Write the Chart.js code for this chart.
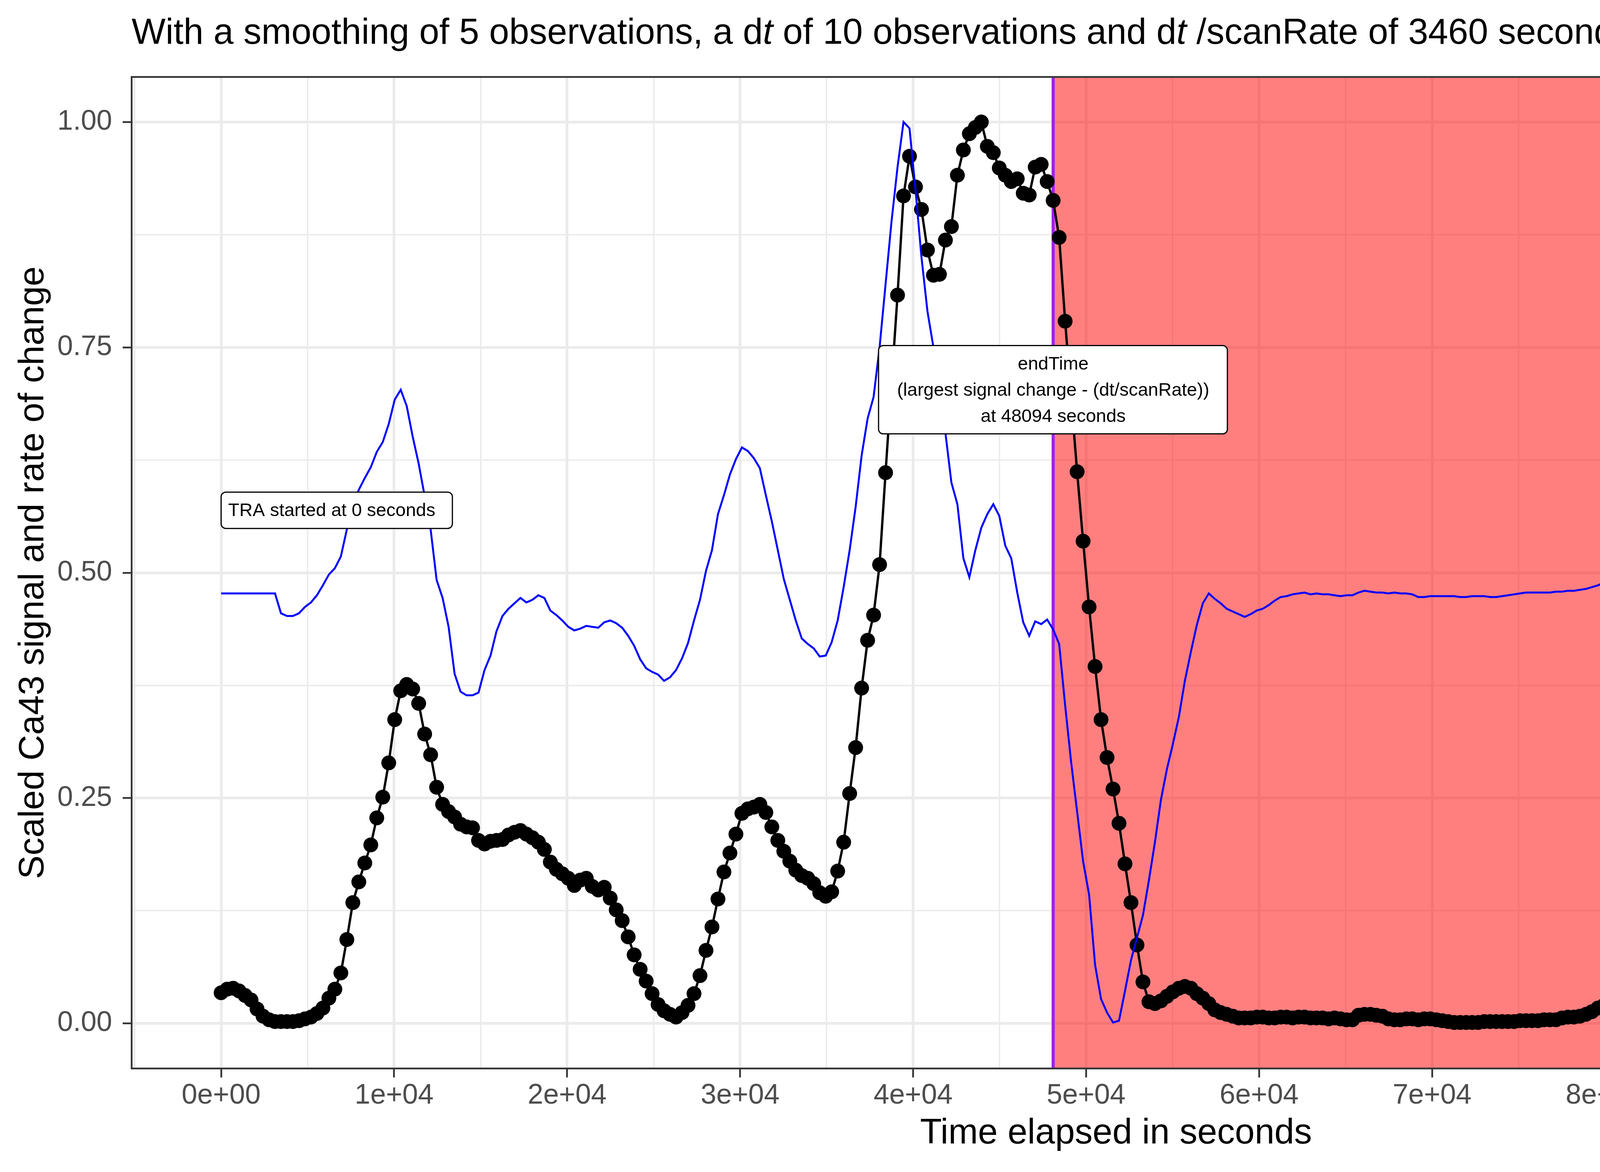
<!DOCTYPE html>
<html>
<head>
<meta charset="utf-8">
<title>Scaled Ca43 signal and rate of change</title>
<script src="https://cdn.jsdelivr.net/npm/chart.js@4.4.1/dist/chart.umd.min.js"></script>
<style>
  html, body { margin: 0; padding: 0; background: #ffffff; }
  #wrap { width: 6000px; height: 3000px; }
</style>
</head>
<body>
<div id="wrap"><canvas id="traChart" width="6000" height="3000"></canvas></div>
<script>
// one observation every 346 s (dt of 10 observations = 3460 s)
const scanRate = 346;
const endTime = 48094;

// scaled Ca43 signal, one value per observation
const signalValues = [
  0.034, 0.038, 0.039, 0.036, 0.031, 0.026, 0.016, 0.008, 0.004, 0.002,
  0.002, 0.002, 0.002, 0.003, 0.005, 0.007, 0.011, 0.017, 0.028, 0.038,
  0.056, 0.093, 0.134, 0.157, 0.178, 0.198, 0.228, 0.251, 0.289, 0.337,
  0.369, 0.376, 0.371, 0.355, 0.321, 0.298, 0.262, 0.243, 0.235, 0.229,
  0.221, 0.218, 0.217, 0.203, 0.199, 0.202, 0.203, 0.204, 0.209, 0.212,
  0.214, 0.210, 0.206, 0.201, 0.193, 0.179, 0.171, 0.166, 0.161, 0.153,
  0.159, 0.161, 0.152, 0.148, 0.151, 0.139, 0.126, 0.114, 0.096, 0.076,
  0.060, 0.047, 0.033, 0.021, 0.014, 0.010, 0.007, 0.012, 0.020, 0.033,
  0.053, 0.081, 0.107, 0.138, 0.168, 0.189, 0.210, 0.233, 0.238, 0.240,
  0.243, 0.234, 0.218, 0.203, 0.191, 0.180, 0.170, 0.164, 0.161, 0.155,
  0.145, 0.141, 0.146, 0.169, 0.201, 0.255, 0.306, 0.372, 0.425, 0.453,
  0.509, 0.611, 0.710, 0.808, 0.918, 0.962, 0.928, 0.903, 0.858, 0.830,
  0.831, 0.869, 0.884, 0.941, 0.969, 0.987, 0.994, 1.000, 0.973, 0.966,
  0.949, 0.941, 0.934, 0.937, 0.921, 0.919, 0.950, 0.953, 0.934, 0.913,
  0.872, 0.779, 0.695, 0.612, 0.535, 0.462, 0.396, 0.337, 0.295, 0.260,
  0.222, 0.177, 0.134, 0.087, 0.046, 0.024, 0.022, 0.025, 0.030, 0.035,
  0.039, 0.041, 0.039, 0.033, 0.028, 0.022, 0.015, 0.012, 0.010, 0.008,
  0.006, 0.006, 0.006, 0.007, 0.007, 0.006, 0.006, 0.007, 0.007, 0.006,
  0.007, 0.007, 0.006, 0.006, 0.006, 0.005, 0.006, 0.005, 0.004, 0.004,
  0.009, 0.010, 0.010, 0.009, 0.008, 0.005, 0.004, 0.004, 0.005, 0.005,
  0.004, 0.005, 0.005, 0.004, 0.003, 0.002, 0.001, 0.001, 0.001, 0.001,
  0.001, 0.002, 0.002, 0.002, 0.002, 0.002, 0.002, 0.003, 0.003, 0.003,
  0.003, 0.004, 0.004, 0.004, 0.006, 0.007, 0.007, 0.008, 0.010, 0.013,
  0.017, 0.020, 0.022, 0.022, 0.021, 0.016, 0.012, 0.008, 0.006, 0.006,
  0.006, 0.008, 0.010, 0.012, 0.014, 0.015, 0.015, 0.015, 0.014, 0.014,
  0.013, 0.013, 0.013, 0.012, 0.012, 0.012, 0.013, 0.014, 0.013, 0.014,
  0.014, 0.014, 0.013, 0.014, 0.014, 0.015, 0.015, 0.015, 0.015, 0.015,
  0.015, 0.016, 0.020, 0.020, 0.020, 0.019, 0.020, 0.016, 0.015, 0.015,
  0.015, 0.014, 0.012, 0.010, 0.008, 0.006, 0.005, 0.004, 0.004, 0.004,
  0.005, 0.006, 0.007, 0.008, 0.008, 0.009, 0.009, 0.010, 0.010, 0.010
];

// scaled rate of change
const dydtValues = [
  0.477, 0.477, 0.477, 0.477, 0.477, 0.477, 0.477, 0.477, 0.477, 0.477,
  0.455, 0.452, 0.452, 0.455, 0.462, 0.467, 0.475, 0.486, 0.498, 0.505,
  0.518, 0.548, 0.575, 0.592, 0.605, 0.617, 0.634, 0.645, 0.665, 0.692,
  0.703, 0.685, 0.651, 0.621, 0.585, 0.548, 0.492, 0.472, 0.440, 0.388,
  0.368, 0.364, 0.364, 0.367, 0.392, 0.408, 0.435, 0.452, 0.460, 0.466,
  0.472, 0.467, 0.470, 0.475, 0.472, 0.458, 0.453, 0.447, 0.440, 0.436,
  0.438, 0.441, 0.440, 0.439, 0.445, 0.447, 0.444, 0.439, 0.430, 0.419,
  0.404, 0.394, 0.390, 0.387, 0.380, 0.384, 0.392, 0.405, 0.422, 0.447,
  0.470, 0.502, 0.525, 0.565, 0.586, 0.609, 0.626, 0.639, 0.635, 0.627,
  0.616, 0.586, 0.557, 0.525, 0.493, 0.470, 0.447, 0.427, 0.421, 0.416,
  0.407, 0.408, 0.423, 0.447, 0.484, 0.525, 0.573, 0.630, 0.671, 0.695,
  0.750, 0.820, 0.890, 0.950, 1.000, 0.993, 0.925, 0.850, 0.790, 0.750,
  0.705, 0.655, 0.600, 0.576, 0.516, 0.495, 0.525, 0.550, 0.565, 0.576,
  0.563, 0.530, 0.516, 0.478, 0.445, 0.430, 0.446, 0.443, 0.448, 0.437,
  0.421, 0.353, 0.290, 0.235, 0.180, 0.143, 0.065, 0.027, 0.012, 0.001,
  0.003, 0.036, 0.070, 0.095, 0.120, 0.159, 0.201, 0.248, 0.282, 0.310,
  0.340, 0.380, 0.412, 0.442, 0.466, 0.477, 0.471, 0.466, 0.460, 0.457,
  0.454, 0.451, 0.454, 0.458, 0.460, 0.464, 0.469, 0.473, 0.474, 0.476,
  0.477, 0.478, 0.476, 0.477, 0.476, 0.476, 0.475, 0.474, 0.475, 0.475,
  0.478, 0.480, 0.479, 0.478, 0.478, 0.477, 0.478, 0.477, 0.477, 0.476,
  0.473, 0.473, 0.474, 0.474, 0.474, 0.474, 0.474, 0.473, 0.473, 0.474,
  0.474, 0.474, 0.473, 0.473, 0.474, 0.475, 0.476, 0.477, 0.478, 0.478,
  0.478, 0.478, 0.478, 0.479, 0.479, 0.480, 0.480, 0.481, 0.482, 0.484,
  0.486, 0.489, 0.490, 0.490, 0.488, 0.485, 0.482, 0.479, 0.476, 0.475,
  0.474, 0.471, 0.470, 0.471, 0.473, 0.476, 0.479, 0.481, 0.482, 0.482,
  0.482, 0.481, 0.480, 0.479, 0.476, 0.475, 0.476, 0.477, 0.477, 0.478,
  0.478, 0.478, 0.478, 0.479, 0.479, 0.479, 0.479, 0.478, 0.478, 0.478,
  0.478, 0.478, 0.481, 0.481, 0.481, 0.480, 0.480, 0.478, 0.478, 0.478,
  0.477, 0.474, 0.472, 0.471, 0.470, 0.469, 0.467, 0.469, 0.468, 0.469,
  0.469, 0.470, 0.472, 0.474, 0.476, 0.478, 0.480, 0.481, 0.481, 0.481
];

const xTickValues = [0, 10000, 20000, 30000, 40000, 50000, 60000, 70000, 80000, 90000, 100000];
const xTickLabels = ['0e+00', '1e+04', '2e+04', '3e+04', '4e+04', '5e+04', '6e+04', '7e+04', '8e+04', '9e+04', '1e+05'];
const xMinorValues = [-5000, 5000, 15000, 25000, 35000, 45000, 55000, 65000, 75000, 85000, 95000, 105000];
const yTickValues = [0, 0.25, 0.5, 0.75, 1];
const yTickLabels = ['0.00', '0.25', '0.50', '0.75', '1.00'];
const yMinorValues = [0.125, 0.375, 0.625, 0.875];
const xLimits = [-5173, 108627];
const yLimits = [-0.05, 1.05];

const FONT = "'Liberation Sans', Arial, Helvetica, sans-serif";

function toPoints(values) {
  return values.map((v, i) => ({ x: i * scanRate, y: v }));
}

function buildTicks(major, labels, minor) {
  return major.map((v, i) => ({ value: v, label: labels[i], isMajor: true }))
    .concat(minor.map(v => ({ value: v, label: '', isMajor: false })))
    .sort((a, b) => a.value - b.value);
}

function gridOptions() {
  return {
    color: '#EBEBEB',
    lineWidth: ctx => (ctx.tick && ctx.tick.isMajor ? 7 : 3.5),
    tickColor: ctx => (ctx.tick && ctx.tick.isMajor ? '#333333' : 'rgba(0,0,0,0)'),
    tickWidth: 4.5,
    tickLength: 23,
    drawTicks: true
  };
}

function roundedBox(ctx, x, y, w, h, r) {
  ctx.beginPath();
  ctx.moveTo(x + r, y);
  ctx.arcTo(x + w, y, x + w, y + h, r);
  ctx.arcTo(x + w, y + h, x, y + h, r);
  ctx.arcTo(x, y + h, x, y, r);
  ctx.arcTo(x, y, x + w, y, r);
  ctx.closePath();
}

function drawLabelBox(ctx, left, top, w, h) {
  roundedBox(ctx, left, top, w, h, 12);
  ctx.fillStyle = '#ffffff';
  ctx.fill();
  ctx.lineWidth = 3;
  ctx.strokeStyle = '#000000';
  ctx.stroke();
}

const ggDecor = {
  id: 'ggDecor',
  beforeDatasetsDraw(chart) {
    const { ctx, chartArea: a, scales: { x } } = chart;
    const xe = x.getPixelForValue(endTime);
    ctx.save();
    ctx.fillStyle = 'rgba(255, 0, 0, 0.5)';
    ctx.fillRect(xe, a.top, a.right - xe, a.bottom - a.top);
    ctx.strokeStyle = '#A020F0';
    ctx.lineWidth = 8;
    ctx.beginPath();
    ctx.moveTo(xe, a.top);
    ctx.lineTo(xe, a.bottom);
    ctx.stroke();
    ctx.restore();
  },
  afterDatasetsDraw(chart) {
    const { ctx, chartArea: a, scales: { x, y } } = chart;
    ctx.save();
    // panel border
    ctx.strokeStyle = '#333333';
    ctx.lineWidth = 4.5;
    ctx.strokeRect(a.left, a.top, a.right - a.left, a.bottom - a.top);

    // start label
    ctx.font = '47px ' + FONT;
    ctx.textBaseline = 'middle';
    const sx = x.getPixelForValue(0);
    const sy = y.getPixelForValue(0.5695);
    drawLabelBox(ctx, sx, sy - 46, 592, 93);
    ctx.fillStyle = '#000000';
    ctx.textAlign = 'left';
    ctx.fillText('TRA started at 0 seconds', sx + 18, sy + 2);

    // endTime label
    const ex = x.getPixelForValue(endTime);
    const ey = y.getPixelForValue(0.703);
    drawLabelBox(ctx, ex - 447, ey - 113, 893, 226);
    ctx.fillStyle = '#000000';
    ctx.textAlign = 'center';
    ctx.fillText('endTime', ex, ey - 65);
    ctx.fillText('(largest signal change - (dt/scanRate))', ex, ey + 2);
    ctx.fillText('at 48094 seconds', ex, ey + 69);
    ctx.restore();
  },
  afterDraw(chart) {
    const { ctx, chartArea: a } = chart;
    ctx.save();
    // title with italic t
    const parts = [
      ['With a smoothing of 5 observations, a d', false],
      ['t', true],
      [' of 10 observations and d', false],
      ['t', true],
      [' /scanRate of 3460 seconds', false]
    ];
    let tx = a.left;
    ctx.fillStyle = '#000000';
    ctx.textAlign = 'left';
    ctx.textBaseline = 'alphabetic';
    for (const [s, italic] of parts) {
      ctx.font = (italic ? 'italic ' : '') + '92px ' + FONT;
      ctx.fillText(s, tx, 112);
      tx += ctx.measureText(s).width;
    }

    // legend
    const keys = [['Signal', '#000000', 1457], ['dydt', '#0000FF', 1603]];
    ctx.font = '72px ' + FONT;
    ctx.textBaseline = 'middle';
    for (const [name, col, ky] of keys) {
      ctx.strokeStyle = col;
      ctx.lineWidth = 5;
      ctx.beginPath();
      ctx.moveTo(5530, ky);
      ctx.lineTo(5645, ky);
      ctx.stroke();
      ctx.fillStyle = col;
      ctx.beginPath();
      ctx.arc(5587, ky, 19, 0, Math.PI * 2);
      ctx.fill();
      ctx.fillStyle = '#000000';
      ctx.fillText(name, 5708, ky + 2);
    }
    ctx.restore();
  }
};

const ctxTra = document.getElementById('traChart').getContext('2d');
new Chart(ctxTra, {
  type: 'line',
  data: {
    datasets: [{
      label: 'dydt',
      data: toPoints(dydtValues),
      borderColor: '#0000FF',
      backgroundColor: '#0000FF',
      borderWidth: 5,
      pointRadius: 0,
      tension: 0,
      order: 1
    }, {
      label: 'Signal',
      data: toPoints(signalValues),
      borderColor: '#000000',
      backgroundColor: '#000000',
      borderWidth: 6,
      pointRadius: 19,
      pointHoverRadius: 19,
      pointBorderWidth: 0,
      tension: 0,
      order: 2
    }]
  },
  options: {
    responsive: false,
    devicePixelRatio: 1,
    animation: false,
    events: [],
    layout: { padding: { top: 197, right: 623, bottom: 0, left: 0 } },
    plugins: {
      legend: { display: false },
      title: { display: false },
      tooltip: { enabled: false }
    },
    scales: {
      x: {
        type: 'linear',
        min: xLimits[0],
        max: xLimits[1],
        afterBuildTicks: scale => { scale.ticks = buildTicks(xTickValues, xTickLabels, xMinorValues); },
        afterFit: scale => { scale.height = 265; },
        grid: gridOptions(),
        border: { display: false },
        ticks: {
          autoSkip: false,
          maxRotation: 0,
          minRotation: 0,
          padding: 4,
          color: '#4D4D4D',
          font: { family: FONT, size: 72 },
          callback: (value) => {
            const k = xTickValues.indexOf(value);
            return k >= 0 ? xTickLabels[k] : '';
          }
        },
        title: {
          display: true,
          text: 'Time elapsed in seconds',
          color: '#000000',
          font: { family: FONT, size: 91 },
          padding: { top: 0, bottom: 43 }
        }
      },
      y: {
        type: 'linear',
        min: yLimits[0],
        max: yLimits[1],
        afterBuildTicks: scale => { scale.ticks = buildTicks(yTickValues, yTickLabels, yMinorValues); },
        afterFit: scale => { scale.width = 337; },
        grid: gridOptions(),
        border: { display: false },
        ticks: {
          autoSkip: false,
          padding: 27,
          color: '#4D4D4D',
          font: { family: FONT, size: 72 },
          callback: (value) => {
            const k = yTickValues.indexOf(value);
            return k >= 0 ? yTickLabels[k] : '';
          }
        },
        title: {
          display: true,
          text: 'Scaled Ca43 signal and rate of change',
          color: '#000000',
          font: { family: FONT, size: 91 },
          padding: { top: 31, bottom: 0 }
        }
      }
    }
  },
  plugins: [ggDecor]
});
</script>
</body>
</html>
